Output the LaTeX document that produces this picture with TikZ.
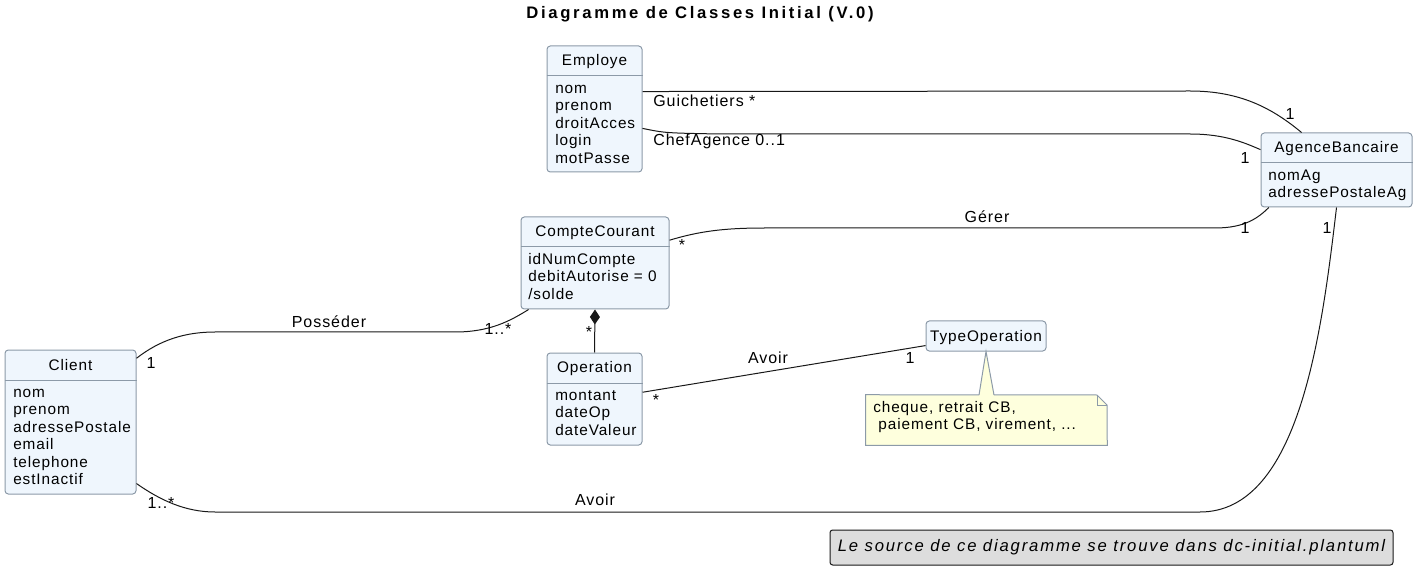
\documentclass[tikz,border=0pt]{standalone}
\usepackage{fontspec}
\setmainfont{Liberation Sans}[LetterSpace=6]
\newfontfamily\titlefont{Liberation Sans}[LetterSpace=16]
\newfontfamily\footfont{Liberation Sans}[LetterSpace=11]
\usetikzlibrary{arrows.meta,fit,positioning}

\definecolor{clsfill}{HTML}{EFF6FD}
\definecolor{clsborder}{HTML}{8C9AA8}
\definecolor{notefill}{HTML}{FEFFDD}
\definecolor{footfill}{HTML}{DDDDDD}
\definecolor{linecol}{HTML}{181818}

\tikzset{
  classbox/.style={draw=clsborder, fill=clsfill, rounded corners=2.5pt, inner sep=0pt, line width=0.75pt},
  classname/.style={anchor=base, inner sep=0pt, font=\fontsize{11.5}{13}\selectfont},
  attrlist/.style={anchor=north west, align=left, inner sep=0pt, font=\fontsize{11.5}{13.1}\selectfont},
  sepline/.style={draw=clsborder, line width=0.75pt},
  assoc/.style={draw=linecol, line width=0.75pt},
  role/.style={inner sep=0pt, font=\fontsize{12}{14}\selectfont},
  notebox/.style={draw=clsborder, fill=notefill, line width=0.75pt},
}

\begin{document}
\begin{tikzpicture}[x=0.75pt, y=-0.75pt]
\useasboundingbox (0,0) rectangle (1423,573);

% title
\node[inner sep=0pt, font=\titlefont\bfseries\fontsize{12.5}{14}\selectfont] (title) at (700,14) {Diagramme de Classes Initial (V.0)};

% classes
\node[classbox, fit={(547,46) (642,172)}] (employe) {};
\draw[sepline] (employe.west |- 0,76) -- (employe.east |- 0,76);
\node[classname] (employename) at (594.5,66) {Employe};
\node[attrlist] (employeattr) at (555,81) {\strut nom\\prenom\\droitAcces\\login\\motPasse};

\node[classbox, fit={(1261,133) (1412,207)}] (agence) {};
\draw[sepline] (agence.west |- 0,163) -- (agence.east |- 0,163);
\node[classname] (agencename) at (1336.5,153) {AgenceBancaire};
\node[attrlist] (agenceattr) at (1268,168) {\strut nomAg\\adressePostaleAg};

\node[classbox, fit={(521,217) (669,309)}] (compte) {};
\draw[sepline] (compte.west |- 0,247) -- (compte.east |- 0,247);
\node[classname] (comptename) at (595,237) {CompteCourant};
\node[attrlist] (compteattr) at (528,252) {\strut idNumCompte\\debitAutorise = 0\\/solde};

\node[classbox, fit={(547,353) (642,445)}] (operation) {};
\draw[sepline] (operation.west |- 0,383) -- (operation.east |- 0,383);
\node[classname] (operationname) at (594.5,373) {Operation};
\node[attrlist] (operationattr) at (555,388) {\strut montant\\dateOp\\dateValeur};

\node[classbox, fit={(5,350) (136,494)}] (client) {};
\draw[sepline] (client.west |- 0,380) -- (client.east |- 0,380);
\node[classname] (clientname) at (70.5,370) {Client};
\node[attrlist] (clientattr) at (13,385) {\strut nom\\prenom\\adressePostale\\email\\telephone\\estInactif};

\node[classbox, fit={(926,321) (1046,351)}] (typeop) {};
\node[classname] (typeopname) at (986,341) {TypeOperation};

% note
\node[inner sep=0pt, fit={(866,395) (1107,445)}] (note) {};
\draw[notebox] (note.north west) -- (1097,395) -- (1107,405) -- (note.south east) -- (note.south west) -- cycle;
\draw[notebox, fill=none] (1097,395) -- (1097,405) -- (1107,405);
\fill[notefill] (typeop.south) -- (979,396) -- (994,396) -- cycle;
\draw[notebox, fill=none] (979,395) -- (typeop.south) -- (994,395);
\node[attrlist] (notetext) at (873,400) {\strut cheque, retrait CB,\\\ paiement CB, virement, ...};

% associations
\draw[assoc] (employe.20.8) -- (1190,91) .. controls (1240,91) and (1272,108) .. (agence.133);
\node[role, anchor=west] (guichetiers) at (653,101) {Guichetiers *};
\node[role] (guichetone) at (1290,114) {1};

\draw[assoc] (employe.-22.8) .. controls (665,133) .. (720,134) -- (1190,134) .. controls (1225,134) and (1245,143) .. (agence.165.2);
\node[role, anchor=west] (chefagence) at (653,141) {ChefAgence 0..1};
\node[role] (chefone) at (1245,158) {1};

\draw[assoc] (compte.17.3) .. controls (700,231) and (725,228) .. (765,228) -- (1215,228) .. controls (1245,228) and (1258,218) .. (agence.209.1);
\node[role] (gerer) at (987,217) {Gérer};
\node[role] (gererstar) at (682,245) {*};
\node[role] (gererone) at (1245,228) {1};

\draw[assoc] (client.44.3) .. controls (160,340) and (185,332) .. (215,332) -- (455,332) .. controls (490,332) and (510,321) .. (compte.215.3);
\node[role] (posseder) at (329,322) {Posséder};
\node[role] (possederone) at (151,363) {1};
\node[role] (possederstar) at (498,329) {1..*};

\draw[assoc, {Diamond[length=11.25pt, width=7.5pt]}-] (compte.south) -- (operation.north);
\node[role] (compostar) at (589,332) {*};

\draw[assoc] (operation.8.4) -- (typeop.189.5);
\node[role] (avoirop) at (768,358) {Avoir};
\node[role] (avoiropstar) at (656,400) {*};
\node[role] (avoiropone) at (910,358) {1};

\draw[assoc] (client.-43.4) .. controls (160,500) and (185,512) .. (215,512) -- (1200,512) .. controls (1300,512) and (1322,330) .. (agence.south);
\node[role] (avoirag) at (595,500) {Avoir};
\node[role] (avoiragstar) at (161,503) {1..*};
\node[role] (avoiragone) at (1327,228) {1};

% source box
\node[draw=linecol, fill=footfill, rounded corners=2pt, line width=0.75pt, inner sep=0pt, fit={(830,530) (1393,565)}] (source) {};
\node[inner sep=0pt, font=\footfont\itshape\fontsize{12.5}{14}\selectfont] (sourcetext) at (source.center) {Le source de ce diagramme se trouve dans dc-initial.plantuml};
\end{tikzpicture}
\end{document}
